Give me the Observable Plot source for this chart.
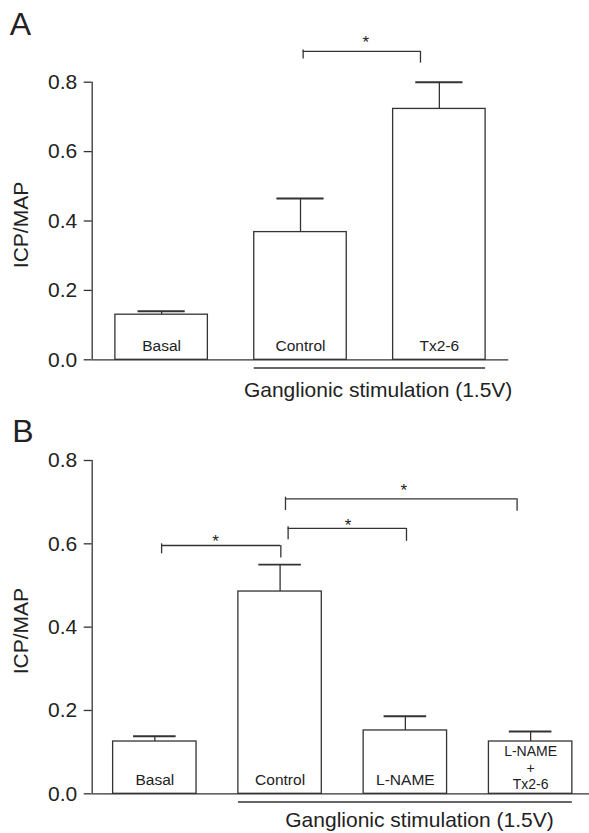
<!DOCTYPE html>
<html>
<head>
<meta charset="utf-8">
<script src="https://cdn.jsdelivr.net/npm/d3@7"></script>
<script src="https://cdn.jsdelivr.net/npm/@observablehq/plot@0.6"></script>
<style>
  html, body { margin: 0; padding: 0; background: #fff; }
  #chart { width: 589px; }
  #chart svg { display: block; overflow: visible; }
</style>
</head>
<body>
<div id="chart"></div>
<script>
// ---------- Panel A data ----------
const groupsA = ["Basal", "Control", "Tx2-6"];
const meansA = [0.130, 0.368, 0.723];
const semA = [0.010, 0.097, 0.077];
// significance brackets (x in bar-index units, y in ICP/MAP units)
const bracketFromA = [1.019];
const bracketToA = [1.864];
const bracketLevelA = [0.889];
const bracketLeftEndA = [0.867];
const bracketRightEndA = [0.855];
const starXA = [1.470];
const starYA = [0.927];
const stimGroupA = [1, 2];

// ---------- Panel B data ----------
const groupsB = ["Basal", "Control", "L-NAME", "L-NAME\n+\nTx2-6"];
const meansB = [0.1255, 0.4855, 0.152, 0.1255];
const semB = [0.0125, 0.0645, 0.034, 0.024];
const bracketFromB = [0.054, 1.064, 1.043];
const bracketToB = [1.006, 2.009, 2.892];
const bracketLevelB = [0.596, 0.637, 0.708];
const bracketLeftEndB = [0.576, 0.610, 0.680];
const bracketRightEndB = [0.566, 0.606, 0.678];
const starXB = [0.484, 1.542, 1.987];
const starYB = [0.616, 0.653, 0.737];
const stimGroupB = [1, 3];

const yTicks = [0, 0.2, 0.4, 0.6, 0.8];
const yLabel = "ICP/MAP";
const stimLabel = "Ganglionic stimulation (1.5V)";

const FONT = "'Liberation Sans', Arial, Helvetica, sans-serif";
const INK = "#333";
const TEXT = "#222";
const HALF = 0.333;   // half bar width (index units)
const CAP = 0.17;     // half error-cap width

function panel(o) {
  const bars = o.groups.map((g, i) => ({i, g, mean: o.means[i], top: o.means[i] + o.sem[i]}));
  const single = bars.filter(d => !d.g.includes("\n"));
  const multi = bars.filter(d => d.g.includes("\n"));
  const brackets = o.from.map((f, k) => ({
    x1: f, x2: o.to[k], y: o.level[k], yl: o.leftEnd[k], yr: o.rightEnd[k]
  }));
  const stars = o.starX.map((x, k) => ({x, y: o.starY[k]}));
  const [g0, g1] = o.stim;
  return Plot.plot({
    width: 589,
    height: o.height,
    marginLeft: 91.7,
    marginRight: o.marginRight,
    marginTop: o.marginTop,
    marginBottom: o.marginBottom,
    style: {fontFamily: FONT, color: TEXT, background: "white", overflow: "visible"},
    x: {type: "linear", domain: o.xDomain, axis: null},
    y: {domain: [0, 0.8], axis: null},
    marks: [
      // y axis
      Plot.ruleX([o.xDomain[0]], {y1: 0, y2: 0.8, stroke: INK, strokeWidth: 1.3}),
      Plot.axisY({ticks: yTicks, tickSize: 8, tickPadding: 7, tickFormat: d3.format(".1f"),
                  fontSize: 21, label: null, stroke: INK, strokeWidth: 1.3, fill: TEXT}),
      // bars
      Plot.rectY(bars, {x1: d => d.i - HALF, x2: d => d.i + HALF, y: "mean",
                        fill: "white", stroke: INK, strokeWidth: 1.3}),
      // error bars
      Plot.ruleX(bars, {x: "i", y1: "mean", y2: "top", stroke: INK, strokeWidth: 1.3}),
      Plot.ruleY(bars, {y: "top", x1: d => d.i - CAP, x2: d => d.i + CAP, stroke: INK, strokeWidth: 1.9}),
      // x axis baseline
      Plot.ruleY([0], {stroke: INK, strokeWidth: 1.3}),
      // bar labels
      Plot.text(single, {x: "i", y: 0, text: "g", lineAnchor: "bottom", dy: -8.5,
                         fontSize: 15.5, fill: TEXT}),
      Plot.text(multi, {x: "i", y: 0, text: "g", lineAnchor: "bottom", dy: -5,
                        fontSize: 14, lineHeight: 1.16, fill: TEXT}),
      // significance brackets
      Plot.ruleY(brackets, {y: "y", x1: "x1", x2: "x2", stroke: INK, strokeWidth: 1.3}),
      Plot.ruleX(brackets, {x: "x1", y1: d => d.y + 0.004, y2: "yl", stroke: INK, strokeWidth: 1.3}),
      Plot.ruleX(brackets, {x: "x2", y1: "y", y2: "yr", stroke: INK, strokeWidth: 1.3}),
      Plot.text(stars, {x: "x", y: "y", text: () => "*", lineAnchor: "bottom", dy: 9.5,
                        fontSize: 17, fill: TEXT}),
      // stimulation group line & label
      Plot.ruleY([0], {x1: g0 - HALF, x2: g1 + HALF, dy: 8.2, stroke: INK, strokeWidth: 1.3}),
      Plot.text([stimLabel], {x: () => o.stimLabelX, y: () => 0, text: d => d,
                              lineAnchor: "bottom", dy: o.stimLabelDy, fontSize: 21, fill: TEXT}),
      // y label
      Plot.text([yLabel], {frameAnchor: "left", text: d => d, rotate: -90, textAnchor: "middle",
                           lineAnchor: "middle", dx: -70.5, dy: 4,
                           fontSize: 21, fill: TEXT}),
      // panel letter
      Plot.text([o.letter], {frameAnchor: "top-left", text: d => d, textAnchor: "start",
                             lineAnchor: "bottom", dx: o.letterDx, dy: o.letterDy,
                             fontSize: 32, fill: TEXT})
    ]
  });
}

const chart = document.getElementById("chart");
chart.appendChild(panel({
  groups: groupsA, means: meansA, sem: semA,
  from: bracketFromA, to: bracketToA, level: bracketLevelA,
  leftEnd: bracketLeftEndA, rightEnd: bracketRightEndA,
  starX: starXA, starY: starYA, stim: stimGroupA,
  height: 410, marginTop: 81.7, marginBottom: 50.7, marginRight: 80.7,
  xDomain: [-0.5, 2.5], stimLabelX: 1.559, stimLabelDy: 37.4,
  letter: "A", letterDx: 9.3 - 91.7, letterDy: 35 - 81.7
}));
chart.appendChild(panel({
  groups: groupsB, means: meansB, sem: semB,
  from: bracketFromB, to: bracketToB, level: bracketLevelB,
  leftEnd: bracketLeftEndB, rightEnd: bracketRightEndB,
  starX: starXB, starY: starYB, stim: stimGroupB,
  height: 423, marginTop: 50, marginBottom: 39.7, marginRight: 0,
  xDomain: [-0.5, 3.47], stimLabelX: 2.113, stimLabelDy: 33.4,
  letter: "B", letterDx: 11.7 - 91.7, letterDy: 31.7 - 50
}));
</script>
</body>
</html>
